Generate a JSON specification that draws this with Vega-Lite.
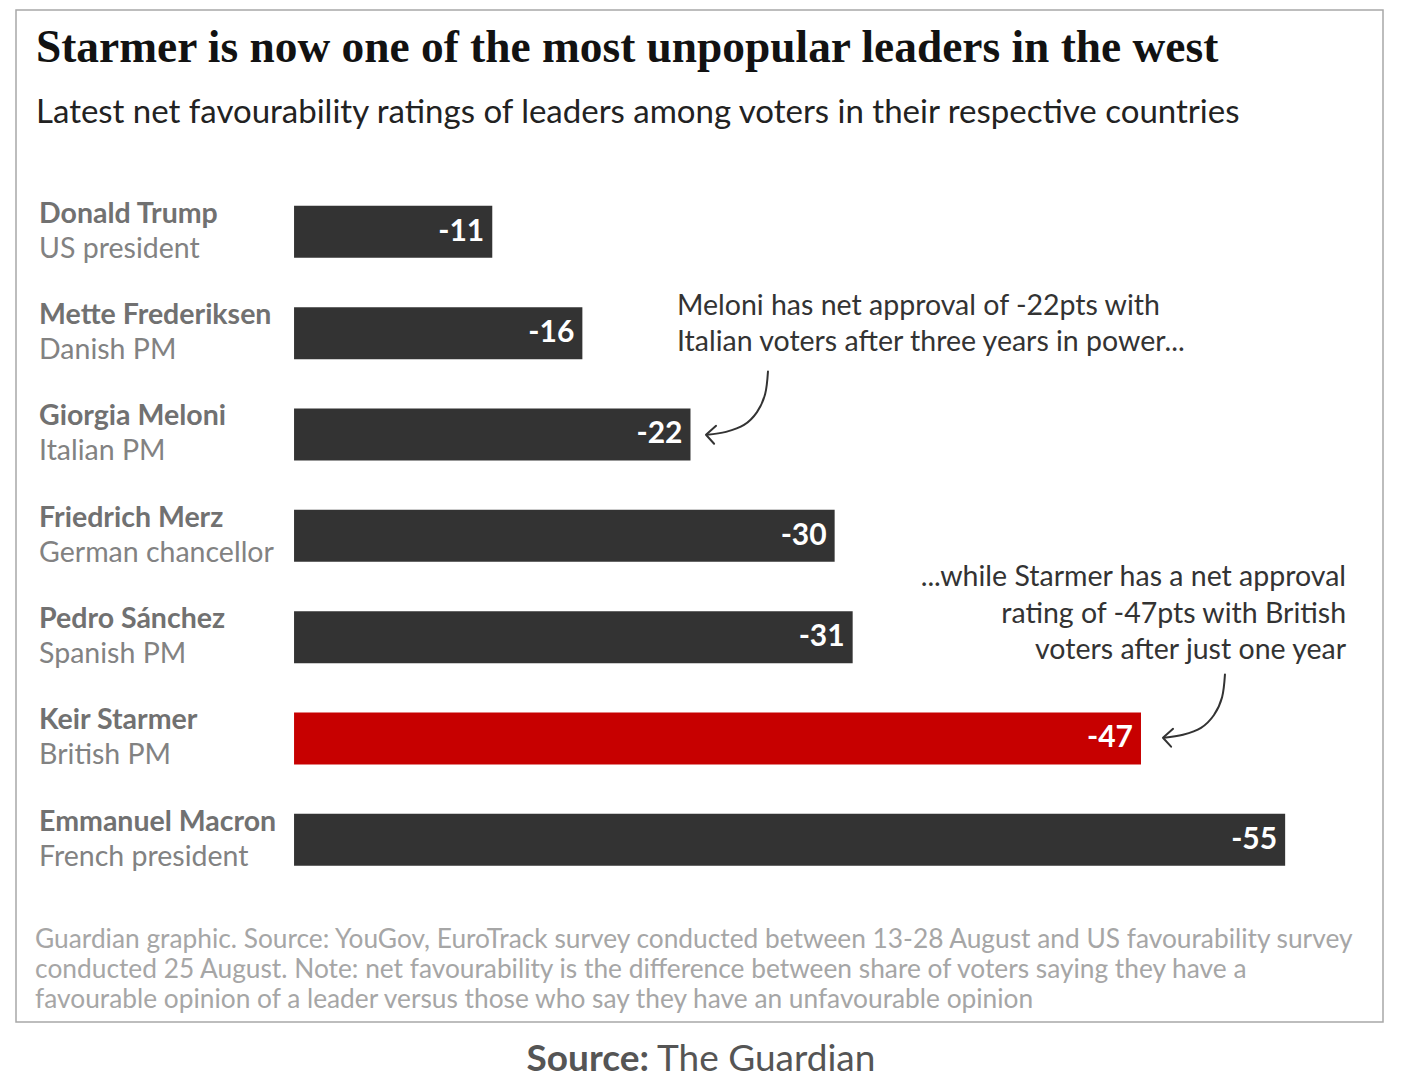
{
  "$schema": "https://vega.github.io/schema/vega-lite/v6.json",
  "width": 1367,
  "height": 1012,
  "autosize": {"type": "none"},
  "padding": {"left": 16, "top": 10, "right": 27, "bottom": 60},
  "background": "white",
  "config": {"view": {"stroke": "#a8a8a8", "strokeWidth": 1.5}, "text": {"font": "Lato"}},
  "title": {
    "text": "Starmer is now one of the most unpopular leaders in the west",
    "subtitle": "Latest net favourability ratings of leaders among voters in their respective countries",
    "anchor": "start",
    "orient": "top",
    "frame": "group",
    "offset": -120,
    "dx": 20,
    "font": "Liberation Serif",
    "fontSize": 45.4,
    "fontWeight": "bold",
    "color": "#121212",
    "subtitleFont": "Lato",
    "subtitleFontSize": 33,
    "subtitleColor": "#222222",
    "subtitlePadding": 26
  },
  "datasets": {
    "leaders": [
      {"name": "Donald Trump", "role": "US president", "value": -11, "rank": 1},
      {"name": "Mette Frederiksen", "role": "Danish PM", "value": -16, "rank": 2},
      {"name": "Giorgia Meloni", "role": "Italian PM", "value": -22, "rank": 3},
      {"name": "Friedrich Merz", "role": "German chancellor", "value": -30, "rank": 4},
      {"name": "Pedro Sánchez", "role": "Spanish PM", "value": -31, "rank": 5},
      {"name": "Keir Starmer", "role": "British PM", "value": -47, "rank": 6},
      {"name": "Emmanuel Macron", "role": "French president", "value": -55, "rank": 7}
    ],
    "curves": [
      {"arrow": "a1", "ord": 0, "x": -26.30, "y": 2.378},
      {"arrow": "a1", "ord": 1, "x": -26.14, "y": 2.603},
      {"arrow": "a1", "ord": 2, "x": -25.69, "y": 2.779},
      {"arrow": "a1", "ord": 3, "x": -24.97, "y": 2.906},
      {"arrow": "a1", "ord": 4, "x": -23.97, "y": 2.974},
      {"arrow": "a1", "ord": 5, "x": -22.92, "y": 3.003},
      {"arrow": "a2", "ord": 0, "x": -51.66, "y": 5.368},
      {"arrow": "a2", "ord": 1, "x": -51.50, "y": 5.593},
      {"arrow": "a2", "ord": 2, "x": -51.05, "y": 5.769},
      {"arrow": "a2", "ord": 3, "x": -50.33, "y": 5.896},
      {"arrow": "a2", "ord": 4, "x": -49.33, "y": 5.964},
      {"arrow": "a2", "ord": 5, "x": -48.28, "y": 5.993}
    ],
    "heads": [
      {"arrow": "a1", "ord": 0, "x": -23.42, "y": 2.915},
      {"arrow": "a1", "ord": 1, "x": -22.86, "y": 3.003},
      {"arrow": "a1", "ord": 2, "x": -23.31, "y": 3.091},
      {"arrow": "a2", "ord": 0, "x": -48.78, "y": 5.905},
      {"arrow": "a2", "ord": 1, "x": -48.22, "y": 5.993},
      {"arrow": "a2", "ord": 2, "x": -48.67, "y": 6.081}
    ]
  },
  "layer": [
    {
      "data": {"name": "leaders"},
      "mark": {"type": "bar", "orient": "horizontal", "size": 52},
      "encoding": {
        "x": {"field": "value", "type": "quantitative", "stack": null, "axis": null,
              "scale": {"domain": [-60.43, 15.43], "reverse": true, "nice": false, "zero": false}},
        "y": {"field": "rank", "type": "quantitative", "axis": null,
              "scale": {"domain": [-1.14, 8.749], "reverse": true, "nice": false, "zero": false}},
        "color": {"condition": {"test": "datum.name === 'Keir Starmer'", "value": "#c70000"}, "value": "#333333"}
      }
    },
    {
      "data": {"name": "leaders"},
      "mark": {"type": "text", "align": "right", "baseline": "middle", "dx": -8, "font": "Lato", "fontWeight": "bold", "fontSize": 30, "color": "#ffffff"},
      "encoding": {
        "x": {"field": "value", "type": "quantitative"},
        "y": {"field": "rank", "type": "quantitative"},
        "text": {"field": "value", "type": "nominal"}
      }
    },
    {
      "data": {"name": "leaders"},
      "mark": {"type": "text", "align": "left", "baseline": "middle", "dy": -18, "font": "Lato", "fontWeight": "bold", "fontSize": 28.5, "color": "#717171"},
      "encoding": {
        "x": {"datum": 14.15, "type": "quantitative"},
        "y": {"field": "rank", "type": "quantitative"},
        "text": {"field": "name", "type": "nominal"}
      }
    },
    {
      "data": {"name": "leaders"},
      "mark": {"type": "text", "align": "left", "baseline": "middle", "dy": 17, "font": "Lato", "fontSize": 28.5, "color": "#828282"},
      "encoding": {
        "x": {"datum": 14.15, "type": "quantitative"},
        "y": {"field": "rank", "type": "quantitative"},
        "text": {"field": "role", "type": "nominal"}
      }
    },
    {
      "data": {"values": [{"note": "Meloni has net approval of -22pts with\nItalian voters after three years in power...", "x": -21.25, "y": 1.733}]},
      "mark": {"type": "text", "align": "left", "baseline": "middle", "lineBreak": "\n", "lineHeight": 36, "font": "Lato", "fontSize": 28.5, "color": "#333333"},
      "encoding": {
        "x": {"field": "x", "type": "quantitative"},
        "y": {"field": "y", "type": "quantitative"},
        "text": {"field": "note", "type": "nominal"}
      }
    },
    {
      "data": {"values": [{"note": "...while Starmer has a net approval\nrating of -47pts with British\nvoters after just one year", "x": -58.38, "y": 4.410}]},
      "mark": {"type": "text", "align": "right", "baseline": "middle", "lineBreak": "\n", "lineHeight": 36.5, "font": "Lato", "fontSize": 28.5, "color": "#333333"},
      "encoding": {
        "x": {"field": "x", "type": "quantitative"},
        "y": {"field": "y", "type": "quantitative"},
        "text": {"field": "note", "type": "nominal"}
      }
    },
    {
      "data": {"name": "curves"},
      "mark": {"type": "line", "interpolate": "cardinal", "stroke": "#333333", "strokeWidth": 2, "strokeCap": "round"},
      "encoding": {
        "x": {"field": "x", "type": "quantitative"},
        "y": {"field": "y", "type": "quantitative"},
        "detail": {"field": "arrow"},
        "order": {"field": "ord"}
      }
    },
    {
      "data": {"name": "heads"},
      "mark": {"type": "line", "interpolate": "linear", "stroke": "#333333", "strokeWidth": 2, "strokeCap": "round", "strokeJoin": "round"},
      "encoding": {
        "x": {"field": "x", "type": "quantitative"},
        "y": {"field": "y", "type": "quantitative"},
        "detail": {"field": "arrow"},
        "order": {"field": "ord"}
      }
    },
    {
      "data": {"values": [{"note": "Guardian graphic. Source: YouGov, EuroTrack survey conducted between 13-28 August and US favourability survey\nconducted 25 August. Note: net favourability is the difference between share of voters saying they have a\nfavourable opinion of a leader versus those who say they have an unfavourable opinion", "x": 14.37, "y": 7.987}]},
      "mark": {"type": "text", "align": "left", "baseline": "middle", "lineBreak": "\n", "lineHeight": 30, "font": "Lato", "fontSize": 26.3, "color": "#a6a6a6"},
      "encoding": {
        "x": {"field": "x", "type": "quantitative"},
        "y": {"field": "y", "type": "quantitative"},
        "text": {"field": "note", "type": "nominal"}
      }
    },
    {
      "data": {"values": [{"label": "Source:", "x": -19.92, "y": 9.170}]},
      "mark": {"type": "text", "align": "right", "baseline": "middle", "dx": -4, "font": "Lato", "fontWeight": "bold", "fontSize": 37, "color": "#555555"},
      "encoding": {
        "x": {"field": "x", "type": "quantitative"},
        "y": {"field": "y", "type": "quantitative"},
        "text": {"field": "label", "type": "nominal"}
      }
    },
    {
      "data": {"values": [{"label": "The Guardian", "x": -19.92, "y": 9.170}]},
      "mark": {"type": "text", "align": "left", "baseline": "middle", "dx": 4, "font": "Lato", "fontSize": 37, "color": "#555555"},
      "encoding": {
        "x": {"field": "x", "type": "quantitative"},
        "y": {"field": "y", "type": "quantitative"},
        "text": {"field": "label", "type": "nominal"}
      }
    }
  ]
}
